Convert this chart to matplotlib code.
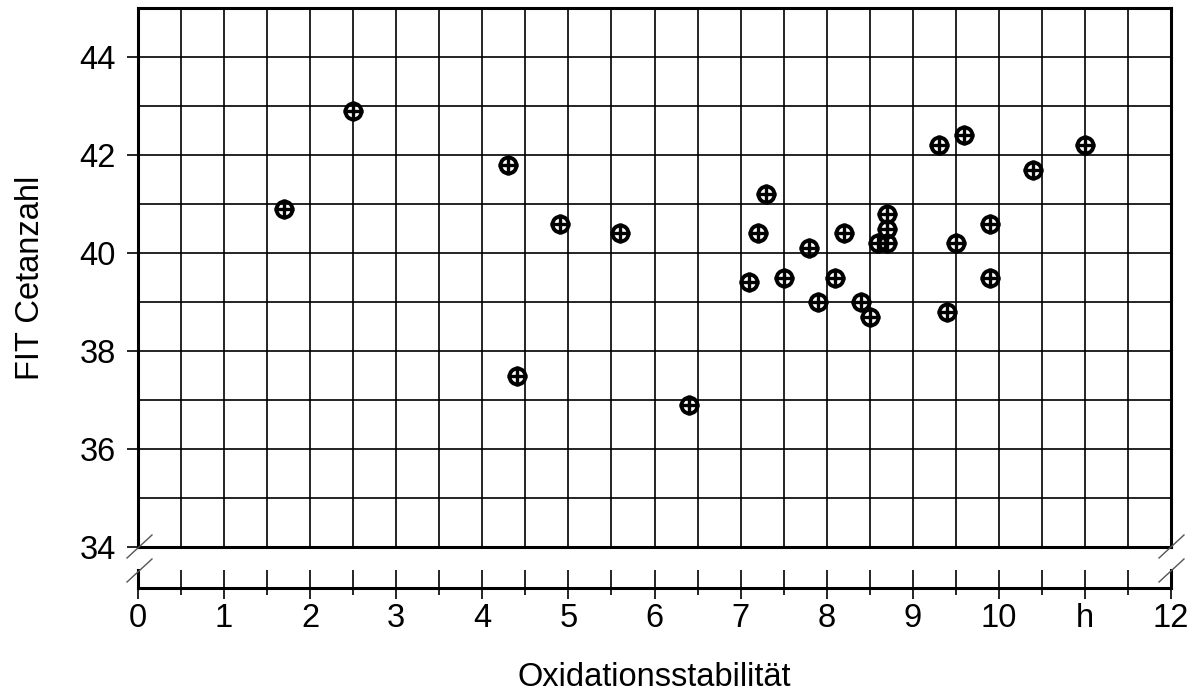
import numpy as np
import matplotlib
matplotlib.use("Agg")
import matplotlib.pyplot as plt

plt.rcParams['font.family'] = ['Liberation Sans', 'DejaVu Sans']

# Oxidationsstabilitaet (h) vs FIT Cetanzahl
oxidation = [1.7, 2.5, 4.3, 4.4, 4.9, 5.6, 6.4, 7.1, 7.2, 7.3, 7.5, 7.8, 7.9, 8.1, 8.2,
             8.4, 8.5, 8.6, 8.7, 8.7, 8.7, 9.3, 9.4, 9.5, 9.6, 9.9, 9.9, 10.4, 11.0]
cetane = [40.9, 42.9, 41.8, 37.5, 40.6, 40.4, 36.9, 39.4, 40.4, 41.2, 39.5, 40.1, 39.0, 39.5, 40.4,
          39.0, 38.7, 40.2, 40.2, 40.8, 40.5, 42.2, 38.8, 40.2, 42.4, 40.6, 39.5, 41.7, 42.2]

x_ticks = np.arange(0, 13, 1)
x_labels = [str(v) for v in x_ticks]
x_labels[11] = "h"
y_ticks = [34, 36, 38, 40, 42, 44]

fig = plt.figure(figsize=(11.96, 6.93), dpi=100)
W, H = 1196, 693
left, right = 138 / W, 1171 / W
ax = fig.add_axes([left, 1 - 547 / H, right - left, (547 - 8) / H])

ax.set_xlim(0, 12)
ax.set_ylim(34, 45)
ax.set_xticks([])
ax.set_xticks(np.arange(0, 12.01, 0.5), minor=True)
ax.set_yticks(np.arange(34, 45.01, 1), minor=True)
ax.set_yticks(y_ticks)
ax.set_yticklabels([str(v) for v in y_ticks], fontsize=23.5)
ax.tick_params(axis='y', which='major', direction='out', length=8, width=1.2, pad=8)
ax.tick_params(axis='y', which='minor', length=0)
ax.tick_params(axis='x', which='both', length=0, labelbottom=False)
ax.grid(True, which='both', color='black', linewidth=1.2)
ax.set_axisbelow(True)
for s in ax.spines.values():
    s.set_linewidth(2.2)

ax.plot(oxidation, cetane, linestyle='none', marker='o', markersize=11.5,
        markerfacecolor='none', markeredgecolor='black', markeredgewidth=2.8, zorder=5)
ax.plot(oxidation, cetane, linestyle='none', marker='+', markersize=14,
        markeredgecolor='black', markeredgewidth=2.4, zorder=6)

ax.set_ylabel("FIT Cetanzahl", fontsize=23.5, labelpad=24)

# lower (broken) x axis
ax2 = fig.add_axes([left, 1 - 588 / H, right - left, 18 / H])
ax2.set_xlim(0, 12)
ax2.set_ylim(0, 1)
ax2.set_yticks([])
ax2.spines['top'].set_visible(False)
for s in ax2.spines.values():
    s.set_linewidth(2.2)
ax2.set_xticks(x_ticks)
ax2.set_xticklabels(x_labels, fontsize=23.5)
ax2.set_xticks(np.arange(0.5, 12, 1), minor=True)
ax2.tick_params(axis='x', which='major', direction='out', length=8, width=1.2, pad=3)
ax2.tick_params(axis='x', which='minor', direction='out', length=5, width=1.2)
ax2.grid(True, axis='x', which='both', color='black', linewidth=1.2)
ax2.patch.set_alpha(0)
ax2.set_xlabel("Oxidationsstabilität", fontsize=23.5, labelpad=20)

# break marks
def px(x, y):
    return x / W, 1 - y / H

for x0 in (127, 1159):
    for y0 in (558, 582):
        (a, b), (c, d) = px(x0, y0), px(x0 + 25, y0 - 23)
        fig.add_artist(plt.Line2D([a, c], [b, d], color='#555555', linewidth=1.0))

fig.savefig("out.png", dpi=100)
